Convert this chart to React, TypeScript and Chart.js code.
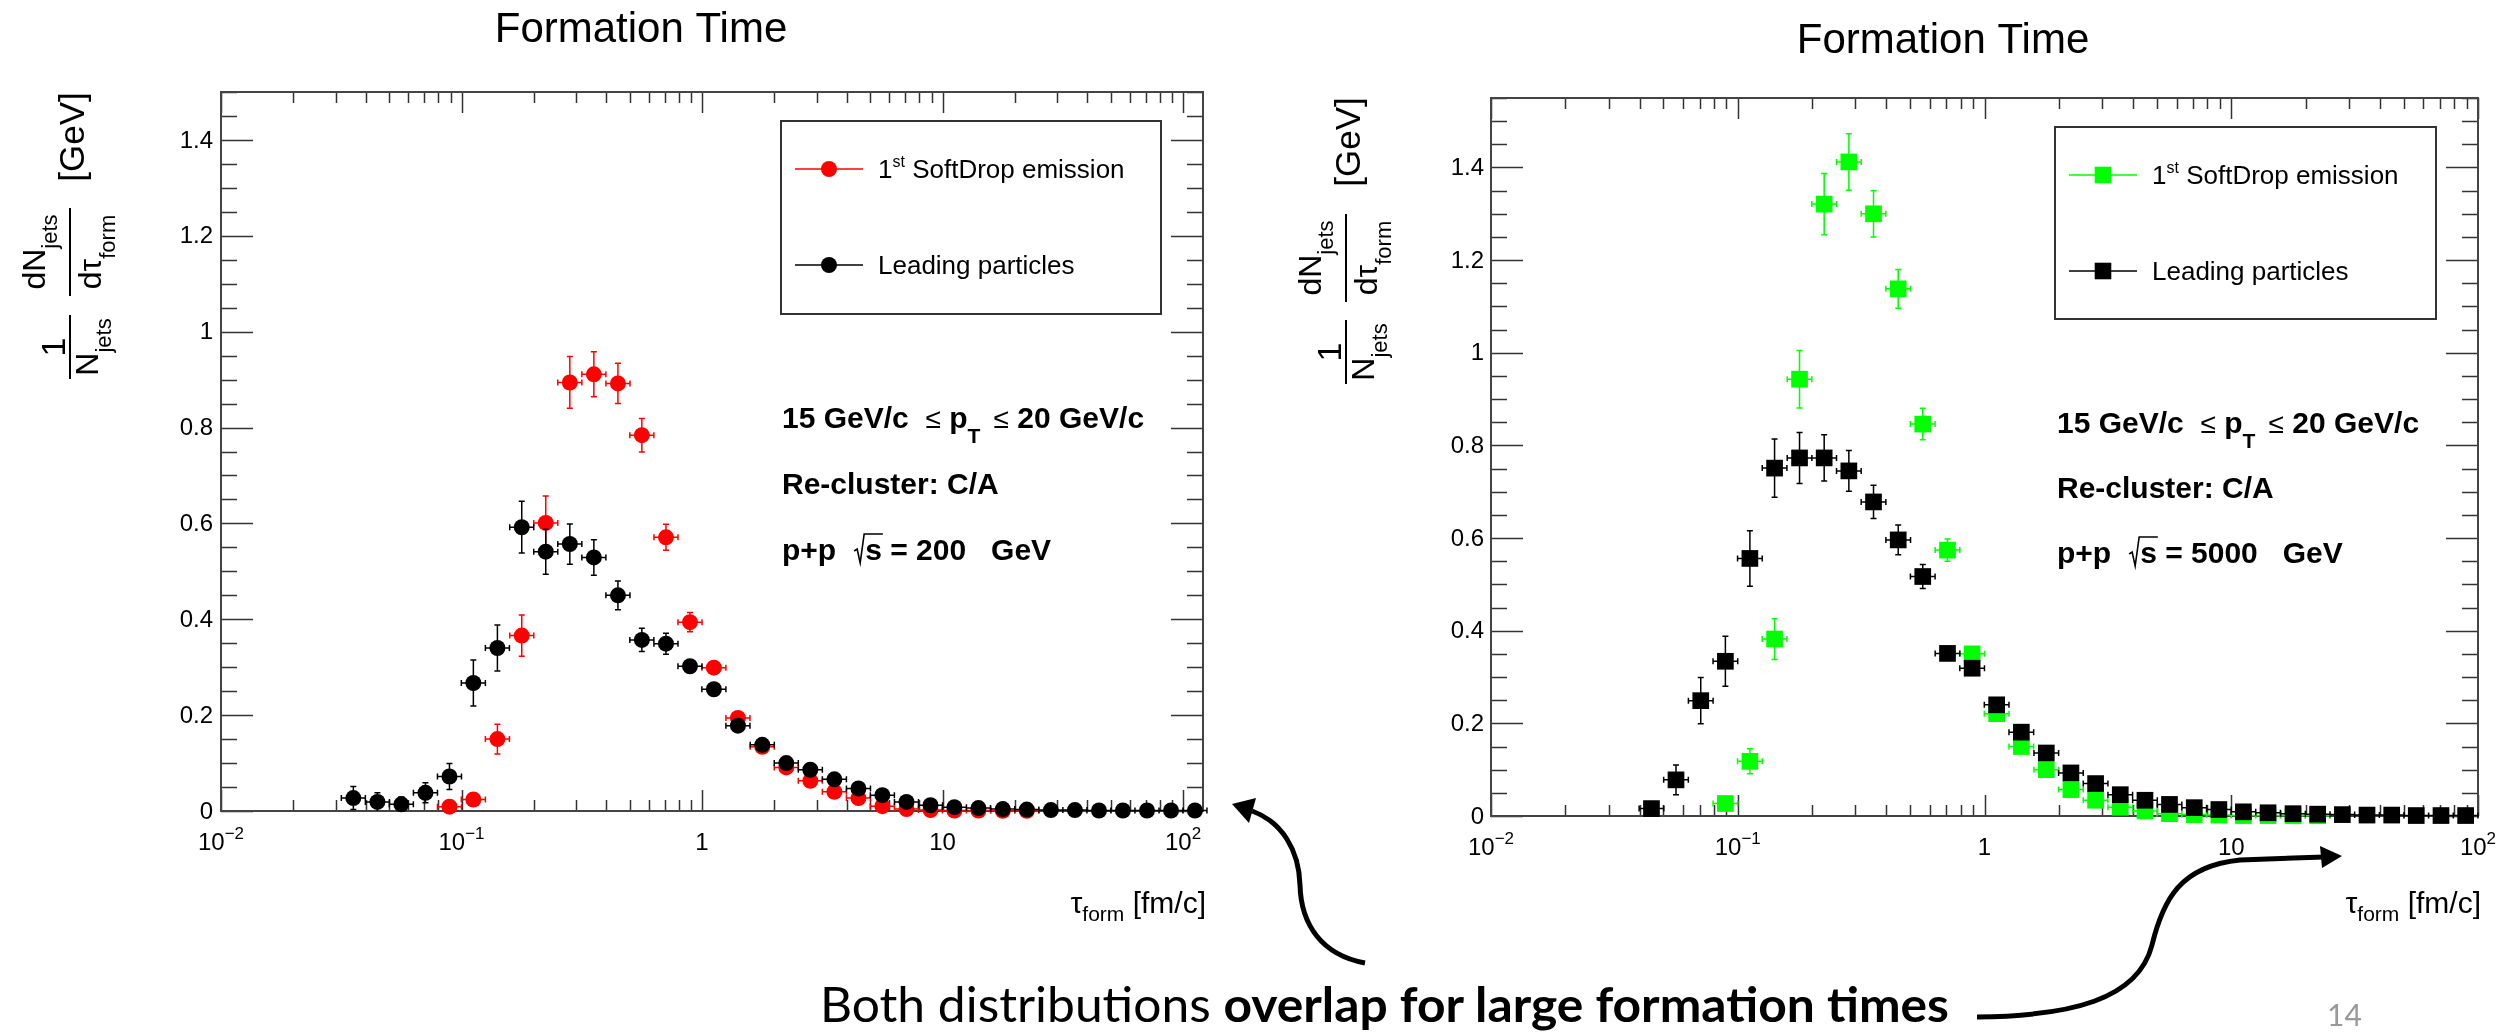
import React, { useEffect, useRef } from "react";
import { Chart, registerables } from "chart.js";

Chart.register(...registerables);

// ---------------- data ----------------
// bin centres (log bins, 0.1 decade wide)
const TAU_200 = [0.0355, 0.0447, 0.0562, 0.0708, 0.0891, 0.112, 0.141, 0.178, 0.224, 0.282, 0.355, 0.447, 0.562, 0.708, 0.891, 1.12, 1.41, 1.78, 2.24, 2.82, 3.55, 4.47, 5.62, 7.08, 8.91, 11.2, 14.1, 17.8, 22.4, 28.2, 35.5, 44.7, 56.2, 70.8, 89.1, 112];
const LEADING_200 = [0.027, 0.019, 0.014, 0.038, 0.072, 0.267, 0.340, 0.592, 0.541, 0.557, 0.529, 0.450, 0.357, 0.349, 0.302, 0.254, 0.178, 0.138, 0.100, 0.086, 0.066, 0.047, 0.033, 0.019, 0.012, 0.008, 0.006, 0.004, 0.003, 0.002, 0.002, 0.001, 0.001, 0.001, 0.001, 0.001];
const LEADING_200_ERR = [0.024, 0.019, 0.015, 0.021, 0.027, 0.048, 0.048, 0.054, 0.047, 0.042, 0.037, 0.030, 0.024, 0.022, 0.012, 0.010, 0.008, 0.006, 0.005, 0.005, 0.004, 0.004, 0.003, 0.003, 0.002, 0.002, 0.002, 0.001, 0.001, 0.001, 0.001, 0.001, 0.001, 0.001, 0.001, 0.001];
const SOFTDROP_200 = [null, null, null, null, 0.009, 0.024, 0.150, 0.366, 0.601, 0.894, 0.911, 0.892, 0.784, 0.571, 0.394, 0.299, 0.194, 0.134, 0.091, 0.063, 0.040, 0.027, 0.010, 0.004, 0.002, 0.001, 0.001, 0.0005, 0.0005, null, null, null, null, null, null, null];
const SOFTDROP_200_ERR = [null, null, null, null, 0.008, 0.010, 0.031, 0.043, 0.056, 0.054, 0.047, 0.042, 0.035, 0.027, 0.020, 0.013, 0.010, 0.008, 0.006, 0.005, 0.004, 0.003, 0.002, 0.002, 0.001, 0.001, 0.001, 0.001, 0.001, null, null, null, null, null, null, null];

const TAU_5000 = [0.0447, 0.0562, 0.0708, 0.0891, 0.112, 0.141, 0.178, 0.224, 0.282, 0.355, 0.447, 0.562, 0.708, 0.891, 1.12, 1.41, 1.78, 2.24, 2.82, 3.55, 4.47, 5.62, 7.08, 8.91, 11.2, 14.1, 17.8, 22.4, 28.2, 35.5, 44.7, 56.2, 70.8, 89.1];
const LEADING_5000 = [0.016, 0.078, 0.249, 0.334, 0.556, 0.751, 0.773, 0.773, 0.745, 0.678, 0.596, 0.517, 0.351, 0.319, 0.240, 0.181, 0.136, 0.093, 0.070, 0.046, 0.034, 0.025, 0.018, 0.014, 0.009, 0.007, 0.005, 0.004, 0.003, 0.002, 0.002, 0.001, 0.001, 0.001];
const LEADING_5000_ERR = [0.010, 0.032, 0.050, 0.054, 0.060, 0.063, 0.055, 0.050, 0.044, 0.036, 0.032, 0.026, 0.012, 0.010, 0.008, 0.007, 0.006, 0.005, 0.004, 0.004, 0.003, 0.003, 0.002, 0.002, 0.002, 0.001, 0.001, 0.001, 0.001, 0.001, 0.001, 0.001, 0.001, 0.001];
const SOFTDROP_5000 = [null, null, null, 0.027, 0.118, 0.382, 0.943, 1.321, 1.412, 1.300, 1.138, 0.846, 0.574, 0.350, 0.221, 0.150, 0.100, 0.057, 0.034, 0.019, 0.011, 0.005, 0.003, 0.002, 0.001, 0.001, 0.001, 0.0005, null, null, null, null, null, null];
const SOFTDROP_5000_ERR = [null, null, null, 0.010, 0.027, 0.044, 0.062, 0.066, 0.061, 0.050, 0.042, 0.034, 0.024, 0.012, 0.009, 0.007, 0.006, 0.004, 0.003, 0.002, 0.002, 0.001, 0.001, 0.001, 0.001, 0.001, 0.001, 0.001, null, null, null, null, null, null];

const BIN_HALF_DEX = 0.05;

const X_TICK_VALUES = [0.01, 0.1, 1, 10, 100];
const X_TICK_BASE = ["10", "10", "1", "10", "10"];
const X_TICK_EXP = ["\u22122", "\u22121", "", "", "2"];
const Y_TICK_VALUES = [0, 0.2, 0.4, 0.6, 0.8, 1, 1.2, 1.4];
const Y_TICK_LABELS = ["0", "0.2", "0.4", "0.6", "0.8", "1", "1.2", "1.4"];

const TITLE = "Formation Time";
const LABEL_SD = "SoftDrop emission";
const LABEL_LEAD = "Leading particles";
const NOTE_CUT = ["15 GeV/c", "20 GeV/c"];
const NOTE_RECLUSTER = "Re-cluster: C/A";
const ENERGIES = ["200", "5000"];

// ---------------- layout ----------------
const FONT = '"Liberation Sans", Arial, Helvetica, sans-serif';

const PANELS = [
  {
    key: "a", left: 0, width: 1230,
    pad: { left: 221, top: 92, right: 27, bottom: 222 },
    xMax: 121, yMax: 1.5,
    tau: TAU_200, lead: LEADING_200, leadErr: LEADING_200_ERR, sd: SOFTDROP_200, sdErr: SOFTDROP_200_ERR,
    sdColor: "#ff0000", pointStyle: "circle", radius: 8, half: 8,
    titleX: 641, titleY: 42,
    yTitle: { barX: 70, g: 137, d: 252, o: 347 },
    legend: { x0: 781, y0: 121, x1: 1161, y1: 314, lx0: 795, lx1: 863, mx: 829, tx: 878, rows: [169, 265] },
    notes: { x: 782, ys: [428, 494, 560] }, energy: ENERGIES[0],
    labelGap: 8,
  },
  {
    key: "b", left: 1250, width: 1261,
    pad: { left: 241, top: 98, right: 33, bottom: 217 },
    xMax: 100, yMax: 1.55,
    tau: TAU_5000, lead: LEADING_5000, leadErr: LEADING_5000_ERR, sd: SOFTDROP_5000, sdErr: SOFTDROP_5000_ERR,
    sdColor: "#00ff00", pointStyle: "rect", radius: 11.8, half: 8.3,
    titleX: 1943, titleY: 53,
    yTitle: { barX: 1346, g: 142, d: 258, o: 352 },
    legend: { x0: 2055, y0: 127, x1: 2436, y1: 319, lx0: 2069, lx1: 2137, mx: 2103, tx: 2152, rows: [175, 271] },
    notes: { x: 2057, ys: [433, 498, 563] }, energy: ENERGIES[1],
    labelGap: 7,
  },
];

type Run = { t: string; size: number; dy?: number; bold?: boolean };

function fnt(size: number, bold?: boolean) {
  return `${bold ? "bold " : ""}${size}px ${FONT}`;
}

function drawRuns(ctx: CanvasRenderingContext2D, runs: Run[], x: number, y: number, align: "left" | "center" | "right") {
  ctx.textAlign = "left";
  ctx.textBaseline = "alphabetic";
  const ws = runs.map((r) => {
    ctx.font = fnt(r.size, r.bold);
    return ctx.measureText(r.t).width;
  });
  const total = ws.reduce((a, b) => a + b, 0);
  let cx = align === "left" ? x : align === "center" ? x - total / 2 : x - total;
  const xs: number[] = [];
  runs.forEach((r, i) => {
    ctx.font = fnt(r.size, r.bold);
    ctx.fillText(r.t, cx, y + (r.dy || 0));
    xs.push(cx);
    cx += ws[i];
  });
  xs.push(cx);
  return xs;
}

function toPoints(tau: number[], vals: (number | null)[], errs: (number | null)[]) {
  const out: any[] = [];
  tau.forEach((x, i) => {
    const v = vals[i];
    if (v !== null && v !== undefined) out.push({ x, y: v, err: errs[i] ?? 0 });
  });
  return out;
}

function drawMarker(ctx: CanvasRenderingContext2D, style: string, x: number, y: number, half: number, color: string) {
  ctx.fillStyle = color;
  ctx.beginPath();
  if (style === "circle") ctx.arc(x, y, half, 0, Math.PI * 2);
  else ctx.rect(x - half, y - half, 2 * half, 2 * half);
  ctx.fill();
}

function makePlugin(p: any) {
  const ox = p.left;
  return {
    id: "rootstyle" + p.key,
    beforeDatasetsDraw(chart: any) {
      const ctx: CanvasRenderingContext2D = chart.ctx;
      const { left, right, top, bottom } = chart.chartArea;
      const xs = chart.scales.x;
      const ys = chart.scales.y;
      ctx.save();
      ctx.strokeStyle = "#333";
      ctx.lineWidth = 1.5;
      ctx.beginPath();
      const n = Math.round(p.yMax / 0.05);
      for (let i = 0; i <= n; i++) {
        const py = Math.round(ys.getPixelForValue(i * 0.05)) + 0.5;
        const len = i % 4 === 0 ? 32 : 16;
        ctx.moveTo(left, py);
        ctx.lineTo(left + len, py);
        ctx.moveTo(right, py);
        ctx.lineTo(right - len, py);
      }
      for (let d = -2; d <= 2; d++) {
        for (let m = 1; m <= 9; m++) {
          const v = m * Math.pow(10, d);
          if (v > p.xMax * 1.0001) continue;
          const px = Math.round(xs.getPixelForValue(v)) + 0.5;
          const len = m === 1 ? 21 : 11;
          ctx.moveTo(px, bottom);
          ctx.lineTo(px, bottom - len);
          ctx.moveTo(px, top);
          ctx.lineTo(px, top + len);
        }
      }
      ctx.stroke();
      ctx.lineWidth = 2;
      ctx.strokeStyle = "#444";
      ctx.strokeRect(left, top, right - left, bottom - top);
      ctx.restore();
    },
    beforeDatasetDraw(chart: any, args: any) {
      const ds = chart.data.datasets[args.index];
      const ctx: CanvasRenderingContext2D = chart.ctx;
      const xs = chart.scales.x;
      const ys = chart.scales.y;
      const f = Math.pow(10, BIN_HALF_DEX);
      ctx.save();
      ctx.strokeStyle = ds.backgroundColor;
      ctx.lineWidth = 1.5;
      ctx.beginPath();
      ds.data.forEach((pt: any) => {
        const px = xs.getPixelForValue(pt.x);
        const py = ys.getPixelForValue(pt.y);
        const xl = xs.getPixelForValue(pt.x / f);
        const xh = xs.getPixelForValue(pt.x * f);
        ctx.moveTo(xl, py);
        ctx.lineTo(xh, py);
        ctx.moveTo(xl, py - 3);
        ctx.lineTo(xl, py + 3);
        ctx.moveTo(xh, py - 3);
        ctx.lineTo(xh, py + 3);
        if (pt.err > 0) {
          const yl = ys.getPixelForValue(Math.max(0, pt.y - pt.err));
          const yh = ys.getPixelForValue(pt.y + pt.err);
          ctx.moveTo(px, yl);
          ctx.lineTo(px, yh);
          ctx.moveTo(px - 3, yh);
          ctx.lineTo(px + 3, yh);
          if (pt.y - pt.err > 0) {
            ctx.moveTo(px - 3, yl);
            ctx.lineTo(px + 3, yl);
          }
        }
      });
      ctx.stroke();
      ctx.restore();
    },
    afterDraw(chart: any) {
      const ctx: CanvasRenderingContext2D = chart.ctx;
      const { left, right, top, bottom } = chart.chartArea;
      const xs = chart.scales.x;
      const ys = chart.scales.y;
      ctx.save();
      ctx.fillStyle = "#000";
      ctx.strokeStyle = "#000";

      // y tick labels
      ctx.font = fnt(24);
      ctx.textAlign = "right";
      ctx.textBaseline = "middle";
      Y_TICK_VALUES.forEach((v, i) => {
        if (v > p.yMax) return;
        ctx.fillText(Y_TICK_LABELS[i], left - p.labelGap, ys.getPixelForValue(v) + 1);
      });

      // x tick labels
      X_TICK_VALUES.forEach((v, i) => {
        if (v > p.xMax * 1.0001) return;
        const px = xs.getPixelForValue(v);
        ctx.textAlign = "left";
        ctx.textBaseline = "alphabetic";
        ctx.font = fnt(24);
        const wb = ctx.measureText(X_TICK_BASE[i]).width;
        ctx.font = fnt(17);
        const we = X_TICK_EXP[i] ? ctx.measureText(X_TICK_EXP[i]).width : 0;
        const x0 = px - (wb + we) / 2;
        const base = bottom + 39;
        ctx.font = fnt(24);
        ctx.fillText(X_TICK_BASE[i], x0, base);
        if (X_TICK_EXP[i]) {
          ctx.font = fnt(17);
          ctx.fillText(X_TICK_EXP[i], x0 + wb, base - 11);
        }
      });

      // x title
      drawRuns(ctx, [
        { t: "\u03c4", size: 30 },
        { t: "form", size: 21, dy: 8 },
        { t: " [fm/c]", size: 30 },
      ], right + 3, 913, "right");

      // title
      ctx.fillStyle = "#000";
      drawRuns(ctx, [{ t: TITLE, size: 42 }], p.titleX - ox, p.titleY, "center");

      // y title (rotated)
      const bx = p.yTitle.barX - ox;
      ctx.lineWidth = 2;
      // 1 / N_jets
      ctx.save();
      ctx.translate(bx, p.yTitle.o);
      ctx.rotate(-Math.PI / 2);
      drawRuns(ctx, [{ t: "1", size: 34 }], 0, -5, "center");
      drawRuns(ctx, [{ t: "N", size: 32 }, { t: "jets", size: 22, dy: 13 }], 0, 28, "center");
      ctx.beginPath();
      ctx.moveTo(-32, 0);
      ctx.lineTo(32, 0);
      ctx.stroke();
      ctx.restore();
      // dN_jets / dtau_form
      ctx.save();
      ctx.translate(bx, p.yTitle.d);
      ctx.rotate(-Math.PI / 2);
      drawRuns(ctx, [{ t: "dN", size: 32 }, { t: "jets", size: 22, dy: 12 }], 0, -25, "center");
      drawRuns(ctx, [{ t: "d\u03c4", size: 32 }, { t: "form", size: 22, dy: 14 }], 0, 31, "center");
      ctx.beginPath();
      ctx.moveTo(-44, 0);
      ctx.lineTo(44, 0);
      ctx.stroke();
      ctx.restore();
      // [GeV]
      ctx.save();
      ctx.translate(bx, p.yTitle.g);
      ctx.rotate(-Math.PI / 2);
      drawRuns(ctx, [{ t: "[GeV]", size: 35 }], 0, 14, "center");
      ctx.restore();

      // legend
      const L = p.legend;
      ctx.strokeStyle = "#333";
      ctx.lineWidth = 2;
      ctx.strokeRect(L.x0 - ox, L.y0, L.x1 - L.x0, L.y1 - L.y0);
      const entries = [
        { color: p.sdColor, runs: [{ t: "1", size: 26 }, { t: "st", size: 16, dy: -11 }, { t: " " + LABEL_SD, size: 26 }] },
        { color: "#000000", runs: [{ t: LABEL_LEAD, size: 26 }] },
      ];
      entries.forEach((e, i) => {
        const ry = L.rows[i];
        ctx.strokeStyle = e.color;
        ctx.lineWidth = 1.5;
        ctx.beginPath();
        ctx.moveTo(L.lx0 - ox, ry);
        ctx.lineTo(L.lx1 - ox, ry);
        ctx.stroke();
        drawMarker(ctx, p.pointStyle, L.mx - ox, ry, p.half, e.color);
        ctx.fillStyle = "#000";
        drawRuns(ctx, e.runs as Run[], L.tx - ox, ry + 9, "left");
      });

      // notes
      const nx = p.notes.x - ox;
      const [y1, y2, y3] = p.notes.ys;
      ctx.fillStyle = "#000";
      drawRuns(ctx, [
        { t: NOTE_CUT[0], size: 30, bold: true },
        { t: "  ", size: 30, bold: true },
        { t: "\u2264", size: 28 },
        { t: " ", size: 30, bold: true },
        { t: "p", size: 30, bold: true },
        { t: "T", size: 21, bold: true, dy: 15 },
        { t: "  ", size: 24, bold: true },
        { t: "\u2264", size: 28 },
        { t: " ", size: 30, bold: true },
        { t: NOTE_CUT[1], size: 30, bold: true },
      ], nx, y1, "left");
      drawRuns(ctx, [{ t: NOTE_RECLUSTER, size: 30, bold: true }], nx, y2, "left");
      const pp = drawRuns(ctx, [{ t: "p+p", size: 30, bold: true }], nx, y3, "left");
      const rx = pp[1] + 18;
      ctx.font = fnt(30, true);
      const sw = ctx.measureText("s").width;
      const sx = rx + 11;
      ctx.strokeStyle = "#000";
      ctx.lineWidth = 1.6;
      ctx.beginPath();
      ctx.moveTo(rx, y3 - 9);
      ctx.lineTo(rx + 3, y3 - 11);
      ctx.lineTo(rx + 6, y3 + 3);
      ctx.lineTo(rx + 10, y3 - 26);
      ctx.lineTo(sx + sw + 1, y3 - 26);
      ctx.stroke();
      ctx.fillText("s", sx, y3);
      drawRuns(ctx, [{ t: " = " + p.energy + "   GeV", size: 30, bold: true }], sx + sw, y3, "left");

      ctx.restore();
    },
  };
}

function makeConfig(p: any): any {
  const common = {
    showLine: false,
    pointStyle: p.pointStyle,
    pointRadius: p.radius,
    pointHoverRadius: p.radius,
    borderWidth: 0,
    pointBorderWidth: 0,
    clip: false,
  };
  return {
    type: "scatter",
    data: {
      datasets: [
        {
          ...common,
          label: LABEL_LEAD,
          data: toPoints(p.tau, p.lead, p.leadErr),
          backgroundColor: "#000000",
          borderColor: "#000000",
          order: 0,
        },
        {
          ...common,
          label: "1st " + LABEL_SD,
          data: toPoints(p.tau, p.sd, p.sdErr),
          backgroundColor: p.sdColor,
          borderColor: p.sdColor,
          order: 1,
        },
      ],
    },
    options: {
      responsive: false,
      maintainAspectRatio: false,
      animation: false,
      events: [],
      layout: { padding: p.pad },
      plugins: {
        legend: { display: false },
        tooltip: { enabled: false },
        title: { display: false },
      },
      scales: {
        x: { type: "logarithmic", min: 0.01, max: p.xMax, display: false },
        y: { type: "linear", min: 0, max: p.yMax, display: false },
      },
    },
    plugins: [makePlugin(p)],
  };
}

function PlotPanel({ p }: { p: any }) {
  const ref = useRef<HTMLCanvasElement>(null);
  useEffect(() => {
    if (!ref.current) return;
    const chart = new Chart(ref.current, makeConfig(p));
    return () => chart.destroy();
  }, [p]);
  return (
    <canvas
      ref={ref}
      width={p.width}
      height={1033}
      style={{ position: "absolute", left: p.left, top: 0, width: p.width, height: 1033 }}
    />
  );
}

export default function App() {
  return (
    <div style={{ position: "absolute", left: 0, top: 0, width: 2511, height: 1033, background: "#fff", overflow: "hidden" }}>
      {PANELS.map((p) => (
        <PlotPanel key={p.key} p={p} />
      ))}
      <svg width={2511} height={1033} style={{ position: "absolute", left: 0, top: 0 }}>
        <text
          x={820}
          y={1022}
          textLength={1129}
          lengthAdjust="spacingAndGlyphs"
          fontFamily="Lato, 'Open Sans', sans-serif"
          fontSize={48}
          fill="#000"
        >
          Both distributions <tspan fontWeight="bold">overlap for large formation times</tspan>
        </text>
        <path d="M1365,963 C1322,955 1301,925 1300,885 C1299,850 1282,822 1252,811" stroke="#000" strokeWidth={5} fill="none" />
        <polygon points="1232,804 1256,798 1249,823" fill="#000" />
        <path d="M1977,1017 C2070,1016 2138,1000 2152,945 C2163,900 2180,866 2240,860 L2324,857" stroke="#000" strokeWidth={5} fill="none" />
        <polygon points="2342,856 2320,846 2322,868" fill="#000" />
        <text x={2327} y={1026} fontFamily="Lato, 'Open Sans', sans-serif" fontSize={30} fill="#999">14</text>
      </svg>
    </div>
  );
}
